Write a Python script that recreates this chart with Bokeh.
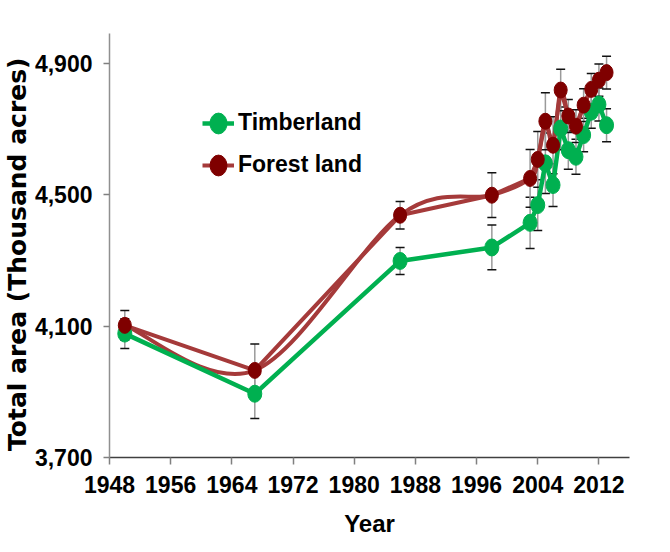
from bokeh.plotting import figure
from bokeh.models import (ColumnDataSource, Whisker, TeeHead, FixedTicker, Range1d,
                          Legend, LegendItem, NumeralTickFormatter, Title)
from bokeh.embed import file_html
from bokeh.resources import INLINE

# ---- data ----
years = [1950, 1967, 1986, 1998, 2003, 2004, 2005, 2006, 2007, 2008, 2009, 2010, 2011, 2012, 2013]
forest = [4102, 3965, 4437, 4498, 4549, 4607, 4723, 4650, 4818, 4739, 4708, 4772, 4820, 4848, 4871]
forest_err = [45, 80, 42, 68, 88, 85, 87, 87, 63, 50, 50, 50, 48, 49, 50]
timber = [4077, 3894, 4298, 4339, 4414, 4468, 4595, 4529, 4701, 4635, 4615, 4681, 4752, 4774, 4711]
timber_err = [45, 75, 41, 68, 78, 77, 92, 65, 65, 58, 53, 51, 50, 50, 50]
x_ticks = [1948, 1956, 1964, 1972, 1980, 1988, 1996, 2004, 2012]
y_ticks = [3700, 4100, 4500, 4900]

GREEN = "#00b050"
RED_LINE = "#a53a3a"
RED_MARK = "#7f0000"
FONT = "'Liberation Sans Narrow', 'Liberation Sans', sans-serif"

p = figure(width=654, height=546, output_backend="svg", toolbar_location=None,
           x_range=Range1d(1948, 2016), y_range=Range1d(3700, 4990),
           min_border_left=107, min_border_right=25, min_border_top=33, min_border_bottom=89)
p.grid.visible = False
p.outline_line_color = None
p.background_fill_color = "white"
p.border_fill_color = "white"

fsrc = ColumnDataSource(dict(x=years, y=forest,
                             up=[v + e for v, e in zip(forest, forest_err)],
                             lo=[v - e for v, e in zip(forest, forest_err)]))
tsrc = ColumnDataSource(dict(x=years, y=timber,
                             up=[v + e for v, e in zip(timber, timber_err)],
                             lo=[v - e for v, e in zip(timber, timber_err)]))

# smoothed (Catmull-Rom -> Bezier) version of the forest land line
n = len(years)
P = list(zip(years, forest))
bz = dict(x0=[], y0=[], x1=[], y1=[], cx0=[], cy0=[], cx1=[], cy1=[])
for i in range(n - 1):
    p0 = P[i - 1] if i > 0 else P[i]
    p1 = P[i]
    p2 = P[i + 1]
    p3 = P[i + 2] if i + 2 < n else P[i + 1]
    bz["x0"].append(p1[0]); bz["y0"].append(p1[1])
    bz["x1"].append(p2[0]); bz["y1"].append(p2[1])
    bz["cx0"].append(p1[0] + (p2[0] - p0[0]) / 6); bz["cy0"].append(p1[1] + (p2[1] - p0[1]) / 6)
    bz["cx1"].append(p2[0] - (p3[0] - p1[0]) / 6); bz["cy1"].append(p2[1] - (p3[1] - p1[1]) / 6)

p.bezier(source=ColumnDataSource(bz), x0="x0", y0="y0", x1="x1", y1="y1",
         cx0="cx0", cy0="cy0", cx1="cx1", cy1="cy1", line_color=RED_LINE, line_width=4)
fline = p.line("x", "y", source=fsrc, line_color=RED_LINE, line_width=4)
tline = p.line("x", "y", source=tsrc, line_color=GREEN, line_width=4.5)

for src in (tsrc, fsrc):
    w = Whisker(source=src, base="x", upper="up", lower="lo", dimension="height",
                line_color="#9a9a9a", line_width=1.5,
                upper_head=TeeHead(size=9, line_color="#111111", line_width=1.5),
                lower_head=TeeHead(size=9, line_color="#111111", line_width=1.5))
    p.add_layout(w)

tmark = p.ellipse("x", "y", source=tsrc, width=14, height=17, width_units="screen",
                  height_units="screen", fill_color=GREEN, line_color=GREEN)
fmark = p.ellipse("x", "y", source=fsrc, width=13, height=16, width_units="screen",
                  height_units="screen", fill_color=RED_MARK, line_color=RED_MARK)

legend = Legend(items=[LegendItem(label="Timberland", renderers=[tline, tmark]),
                       LegendItem(label="Forest land", renderers=[fline, fmark])],
                location=(93, 279), padding=0, margin=0, border_line_color=None,
                background_fill_alpha=0, glyph_width=32, glyph_height=26,
                label_height=26, spacing=15, label_standoff=4,
                label_text_font=FONT, label_text_font_style="bold",
                label_text_font_size="23px", label_text_color="black")
p.add_layout(legend)

xa = p.xaxis[0]
xa.ticker = FixedTicker(ticks=x_ticks)
xa.axis_line_color = "#404040"
xa.axis_line_width = 1.5
xa.major_tick_line_color = "#808080"
xa.major_tick_line_width = 1.5
xa.major_tick_out = 7
xa.major_tick_in = 0
xa.minor_tick_line_color = None
xa.major_label_text_font = FONT
xa.major_label_text_font_style = "bold"
xa.major_label_text_font_size = "23px"
xa.major_label_text_color = "black"
xa.major_label_standoff = 11
xa.axis_label = "Year"
xa.axis_label_text_font = FONT
xa.axis_label_text_font_style = "bold"
xa.axis_label_text_font_size = "24px"
xa.axis_label_text_color = "black"
xa.axis_label_standoff = 14

ya = p.yaxis[0]
ya.ticker = FixedTicker(ticks=y_ticks)
ya.formatter = NumeralTickFormatter(format="0,0")
ya.axis_line_color = "#909090"
ya.axis_line_width = 1.5
ya.major_tick_line_color = "#808080"
ya.major_tick_line_width = 1.5
ya.major_tick_out = 6
ya.major_tick_in = 0
ya.minor_tick_line_color = None
ya.major_label_text_font = FONT
ya.major_label_text_font_style = "bold"
ya.major_label_text_font_size = "23px"
ya.major_label_text_color = "black"
ya.major_label_standoff = 11

# y-axis title as a side title so it can be shifted along the axis
p.add_layout(Title(text="Total area  (Thousand  acres)", align="center", offset=-25,
                   standoff=0, text_font="DejaVu Sans", text_font_style="bold",
                   text_font_size="25px", text_color="black"), "left")

open("out.html", "w").write(file_html(p, INLINE))
